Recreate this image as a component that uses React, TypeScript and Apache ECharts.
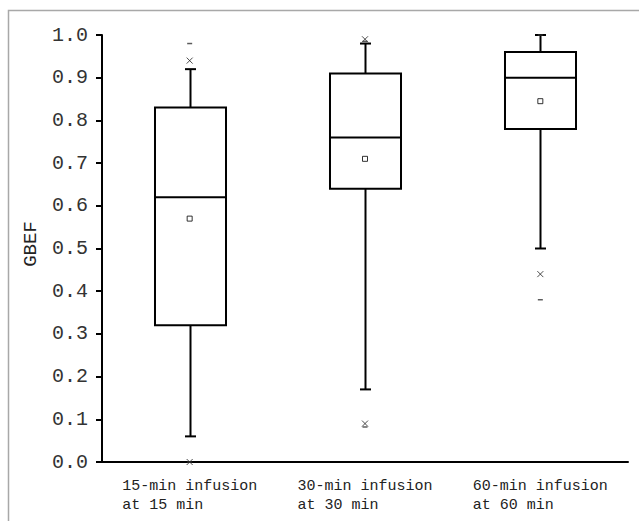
import React, { useEffect, useRef } from "react";
import * as echarts from "echarts";

const categories = ["15-min infusion\nat 15 min      ", "30-min infusion\nat 30 min      ", "60-min infusion\nat 60 min      "];
// [whiskerLow, Q1, median, Q3, whiskerHigh]
const boxStats = [
  [0.06, 0.32, 0.62, 0.83, 0.92],
  [0.17, 0.64, 0.76, 0.91, 0.98],
  [0.50, 0.78, 0.90, 0.96, 1.0],
];
const means = [0.57, 0.71, 0.845];
// percentile markers (x)
const crossMarks = [
  [0, 0.94], [0, 0.0],
  [1, 0.99], [1, 0.09],
  [2, 0.44],
];
// min / max markers (-)
const dashMarks = [
  [0, 0.98], [0, 0.0],
  [1, 0.985], [1, 0.082],
  [2, 1.0], [2, 0.38],
];
const yTicks = { min: 0, max: 1.0, interval: 0.1 };
const yTitle = "GBEF";

const FONT = "'Liberation Mono', 'DejaVu Sans Mono', monospace";

export default function App() {
  const ref = useRef<HTMLDivElement>(null);
  useEffect(() => {
    if (!ref.current) return;
    const chart = echarts.init(ref.current, null, { renderer: "svg" });
    chart.setOption({
      animation: false,
      backgroundColor: "#fff",
      graphic: [
        {
          type: "rect",
          shape: { x: 8.5, y: 10.5, width: 640, height: 520 },
          style: { fill: "none", stroke: "#a8a8a8", lineWidth: 1.5 },
          silent: true,
        },
        {
          type: "text",
          x: 31,
          y: 244,
          rotation: Math.PI / 2,
          style: {
            text: yTitle,
            fontFamily: FONT,
            fontSize: 19,
            fill: "#222",
            align: "center",
            verticalAlign: "middle",
          },
          silent: true,
        },
      ],
      grid: { left: 102, right: 11, top: 35, bottom: 59 },
      xAxis: {
        type: "category",
        data: categories,
        boundaryGap: true,
        axisLine: { lineStyle: { color: "#000", width: 2 } },
        axisTick: { alignWithLabel: true, length: 6, lineStyle: { color: "#000", width: 2 } },
        axisLabel: {
          interval: 0,
          color: "#222",
          fontFamily: FONT,
          fontSize: 15,
          lineHeight: 19,
          margin: 15,
        },
        splitLine: { show: false },
      },
      yAxis: {
        type: "value",
        min: yTicks.min,
        max: yTicks.max,
        interval: yTicks.interval,
        axisLine: { show: true, lineStyle: { color: "#000", width: 2 } },
        axisTick: { show: true, length: 6, lineStyle: { color: "#000", width: 2 } },
        axisLabel: {
          color: "#333",
          fontFamily: FONT,
          fontSize: 20,
          margin: 14,
          formatter: (v: number) => v.toFixed(1),
        },
        splitLine: { show: false },
      },
      series: [
        {
          type: "custom",
          data: boxStats.map((s, i) => [i, ...s]),
          renderItem: (params: any, api: any) => {
            const i = api.value(0);
            const lo = api.coord([i, api.value(1)]);
            const q1 = api.coord([i, api.value(2)]);
            const med = api.coord([i, api.value(3)]);
            const q3 = api.coord([i, api.value(4)]);
            const hi = api.coord([i, api.value(5)]);
            const band = api.size([1, 0])[0];
            const bw = band * 0.405;
            const cx = Math.round(lo[0]) + 0.5;
            const cap = 5.5;
            const st = { stroke: "#000", lineWidth: 2, fill: "none" };
            return {
              type: "group",
              children: [
                { type: "line", shape: { x1: cx, y1: q3[1], x2: cx, y2: hi[1] }, style: st },
                { type: "line", shape: { x1: cx - cap, y1: hi[1], x2: cx + cap, y2: hi[1] }, style: st },
                { type: "line", shape: { x1: cx, y1: q1[1], x2: cx, y2: lo[1] }, style: st },
                { type: "line", shape: { x1: cx - cap, y1: lo[1], x2: cx + cap, y2: lo[1] }, style: st },
                {
                  type: "rect",
                  shape: { x: cx - bw / 2, y: q3[1], width: bw, height: q1[1] - q3[1] },
                  style: { stroke: "#000", lineWidth: 2, fill: "#fff" },
                },
                { type: "line", shape: { x1: cx - bw / 2, y1: med[1], x2: cx + bw / 2, y2: med[1] }, style: st },
              ],
            };
          },
          z: 2,
        },
        {
          type: "scatter",
          data: means.map((m, i) => [i, m]),
          symbol: "rect",
          symbolSize: 5,
          itemStyle: { color: "#fff", borderColor: "#000", borderWidth: 1 },
          z: 5,
        },
        {
          type: "scatter",
          data: crossMarks,
          symbol: "path://M0,0L10,10M10,0L0,10",
          symbolSize: 6,
          itemStyle: { color: "none", borderColor: "#222", borderWidth: 1 },
          z: 5,
        },
        {
          type: "scatter",
          data: dashMarks,
          symbol: "rect",
          symbolSize: [5, 1.5],
          itemStyle: { color: "#333" },
          z: 5,
        },
      ],
    });
    return () => chart.dispose();
  }, []);
  return (
    <div
      ref={ref}
      style={{ position: "fixed", left: 0, top: 0, width: 639, height: 521 }}
    />
  );
}
